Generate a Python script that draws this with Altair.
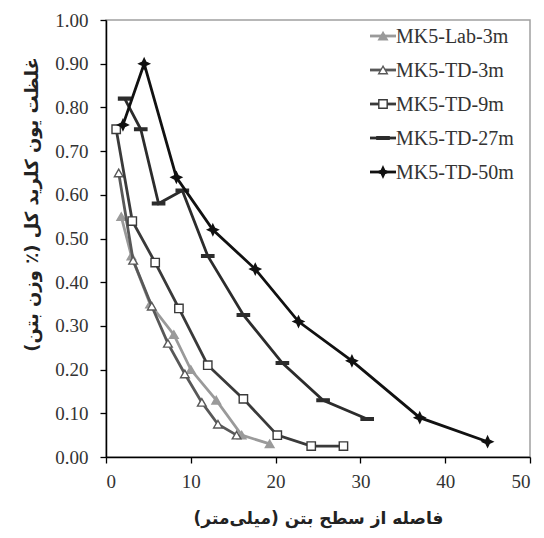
import altair as alt
import pandas as pd

# Series names and styling order (as listed in the legend)
series_names = ["MK5-Lab-3m", "MK5-TD-3m", "MK5-TD-9m", "MK5-TD-27m", "MK5-TD-50m"]

# Distance from concrete surface (mm) and total chloride content (% by weight of concrete)
lab3_x = [1.8, 3.0, 5.2, 8.0, 10.0, 13.0, 16.0, 19.3]
lab3_y = [0.55, 0.46, 0.35, 0.28, 0.20, 0.13, 0.05, 0.03]

td3_x = [1.5, 3.2, 5.4, 7.3, 9.3, 11.3, 13.2, 15.4]
td3_y = [0.65, 0.45, 0.345, 0.26, 0.19, 0.125, 0.075, 0.05]

td9_x = [1.2, 3.1, 5.8, 8.6, 12.0, 16.2, 20.2, 24.2, 28.0]
td9_y = [0.75, 0.54, 0.445, 0.34, 0.21, 0.133, 0.05, 0.025, 0.025]

td27_x = [2.2, 4.1, 6.2, 9.0, 12.0, 16.2, 20.8, 25.6, 30.8]
td27_y = [0.82, 0.75, 0.58, 0.61, 0.46, 0.325, 0.215, 0.13, 0.087]

td50_x = [2.0, 4.5, 8.3, 12.6, 17.6, 22.7, 29.0, 37.0, 45.0]
td50_y = [0.76, 0.90, 0.64, 0.52, 0.43, 0.31, 0.22, 0.09, 0.035]

series_x = [lab3_x, td3_x, td9_x, td27_x, td50_x]
series_y = [lab3_y, td3_y, td9_y, td27_y, td50_y]

x_ticks = [0, 10, 20, 30, 40, 50]
y_ticks = [0.0, 0.1, 0.2, 0.3, 0.4, 0.5, 0.6, 0.7, 0.8, 0.9, 1.0]

x_title = "فاصله از سطح بتن (میلی‌متر)"
y_title = "غلظت یون کلرید کل (٪ وزن بتن)"

# Per-series look: colour, marker shape, marker fill, marker size
colors = ["#9a9a9a", "#585858", "#3a3a3a", "#2c2c2c", "#111111"]
dash_path = "M-1,-0.22H1V0.22H-1Z"
star_path = "M0,-1L0.32,-0.32L1,0L0.32,0.32L0,1L-0.32,0.32L-1,0L-0.32,-0.32Z"
shapes = ["triangle-up", "triangle-up", "square", dash_path, star_path]
fills = ["#9a9a9a", "white", "white", "#2c2c2c", "#111111"]
sizes = [75, 75, 70, 150, 110]

W, H = 424, 437
serif = "Liberation Serif"

x_scale = alt.Scale(domain=[0, 50], nice=False)
y_scale = alt.Scale(domain=[0, 1], nice=False)

x_axis = alt.Axis(
    values=x_ticks, format="d", title=x_title,
    domainColor="#000000", domainWidth=1.5, tickColor="#000000", tickWidth=1.3,
    tickSize=6, labelFont=serif, labelFontSize=19, labelColor="#333333",
    labelPadding=9, grid=False,
    titleFont="DejaVu Sans", titleFontSize=17, titleFontWeight="bold",
    titleColor="#222222", titleBaseline="middle", titleY=61,
)
y_axis = alt.Axis(
    values=y_ticks, format=".2f", title=y_title,
    domainColor="#000000", domainWidth=1.5, tickColor="#000000", tickWidth=1.3,
    tickSize=6, labelFont=serif, labelFontSize=19, labelColor="#333333",
    labelPadding=12, grid=False,
    titleFont="DejaVu Sans", titleFontSize=18, titleFontWeight="bold",
    titleColor="#222222", titleBaseline="middle", titleX=-74, titleY=184,
    titleAlign="center",
)

layers = []
legend_layers = []
for i, name in enumerate(series_names):
    df = pd.DataFrame({"x": series_x[i], "y": series_y[i], "order": range(len(series_x[i]))})
    base = alt.Chart(df).encode(
        x=alt.X("x:Q", scale=x_scale, axis=x_axis),
        y=alt.Y("y:Q", scale=y_scale, axis=y_axis),
        order="order:Q",
    )
    layers.append(base.mark_line(color=colors[i], strokeWidth=2.8))
    layers.append(base.mark_point(
        shape=shapes[i], size=sizes[i], filled=True, fill=fills[i],
        stroke=colors[i], strokeWidth=1.4, opacity=1,
    ))

    # legend row: short line, marker, label
    ly = 16 + 34 * i
    ldf = pd.DataFrame({"label": [name]})
    lbase = alt.Chart(ldf)
    legend_layers.append(lbase.mark_rule(color=colors[i], strokeWidth=2.8).encode(
        x=alt.value(264), x2=alt.value(290), y=alt.value(ly)))
    legend_layers.append(lbase.mark_point(
        shape=shapes[i], size=sizes[i], filled=True, fill=fills[i],
        stroke=colors[i], strokeWidth=1.4, opacity=1,
    ).encode(x=alt.value(277), y=alt.value(ly)))
    legend_layers.append(lbase.mark_text(
        align="left", baseline="middle", font=serif, fontSize=20, color="#333333",
    ).encode(x=alt.value(290), y=alt.value(ly + 1), text="label:N"))

chart = alt.layer(*layers, *legend_layers).properties(
    width=W, height=H,
    autosize=alt.AutoSizeParams(type="none"),
    padding={"left": 106, "top": 20, "right": 14, "bottom": 81},
    background="white",
).configure_view(
    stroke="#a0a0a0", strokeWidth=1.5,
)

chart.save("out.html", embed_options={"renderer": "svg", "actions": False})
